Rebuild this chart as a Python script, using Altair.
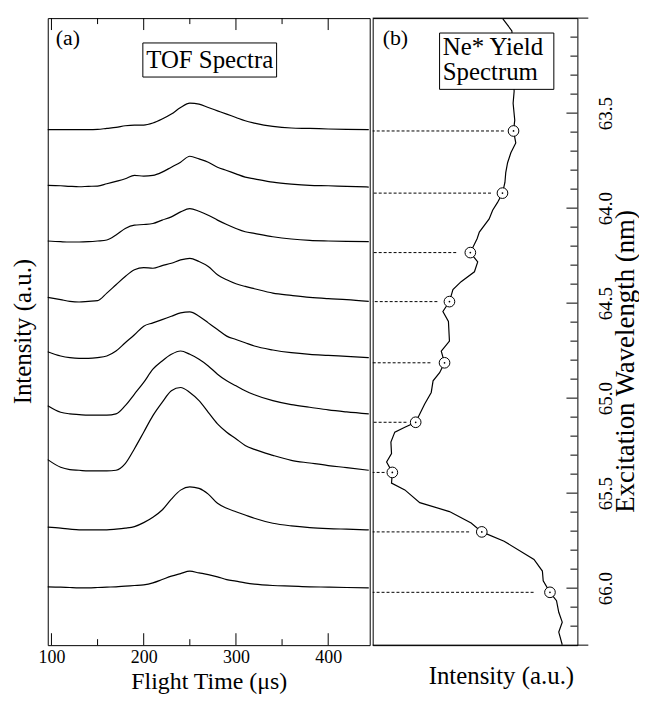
import altair as alt
import pandas as pd

FONT = "Liberation Serif, Times New Roman, serif"

# ---------------- data ----------------
t_us = [96, 110, 120, 130, 140, 150, 160, 170, 180, 190, 200, 210, 220, 230, 240,
        250, 260, 270, 280, 290, 300, 310, 320, 340, 360, 380, 400, 420, 444]

trace_offset = [518.7, 461, 406, 346, 289.3, 232.7, 176, 116, 57.7]

trace1 = [0, 0, 0, 0, 0, 0.3, 1.3, 2.3, 4, 4.7, 4.7, 6.7, 10.7, 15.7, 22.3, 26.7, 25.7, 22.3, 19, 15.7, 12.3, 9, 6.7, 3.3, 1.7, 1.3, 0.7, 0.3, 0]
trace2 = [1.7, 1.3, 0.7, 0.3, 0.7, 1, 3.3, 5.7, 8.3, 11.7, 11, 11.7, 15, 20, 25, 31, 28.3, 25, 20, 16.7, 13.3, 10, 8.3, 5, 3, 1.7, 1.3, 0.7, 0]
trace3 = [0.7, 0, -0.3, -0.3, 0, 0.7, 1.7, 6.7, 13.3, 16.7, 17.3, 18.3, 21.7, 25, 30, 33.3, 30.7, 26.7, 21.7, 17.3, 13.3, 10, 8.3, 5, 2.7, 1.3, 0.7, 0.3, 0]
trace4 = [4, 1.7, 0, -0.7, 0, 0.7, 8.3, 16.7, 25, 31.7, 34, 33.3, 36, 38.3, 41.7, 43.3, 40, 35, 26.7, 21.7, 17.7, 15, 12.7, 8.3, 6, 4, 2.7, 1.7, 0]
trace5 = [6, 1.7, 0, -0.7, -0.7, 0, 1.7, 6.7, 15, 23, 31.7, 35, 38.3, 41.7, 45, 46, 41.7, 35, 28.3, 21.7, 18.3, 15, 11.7, 7.7, 5, 3.3, 2.3, 1.3, 0]
trace6 = [8.3, 1.7, 0, -0.7, -1.3, -1.3, -1.3, 0, 8.3, 20, 31.7, 45, 53.3, 60, 63.3, 60, 55, 48.3, 40, 33.3, 28.3, 23.3, 19.3, 13.3, 9.3, 6.7, 4, 2, 0]
trace7 = [10.7, 3, 0.7, 0, -0.7, -0.7, -0.7, 0, 6.7, 21.7, 38.3, 55, 68.3, 80, 83.3, 78.3, 70, 58.3, 46.7, 38.3, 31.7, 25, 21, 15, 10, 7.3, 4.7, 2.7, 0]
trace8 = [2.7, 1.7, 0.7, 0, 0, 0, 0, 0.7, 1.7, 3.3, 7.3, 12.7, 20, 31, 40, 43.3, 41.7, 36, 26.7, 21.7, 18.3, 15, 11.7, 6.7, 4, 2.3, 1.3, 0.7, 0]
trace9 = [1, 0.7, 0.3, 0, 0, 0.3, 0.7, 1, 1.7, 2.3, 3, 5, 8.3, 11.7, 14.3, 16.7, 15, 13.3, 11, 8.3, 6.7, 5, 3.7, 2.3, 1.7, 1, 0.7, 0.3, 0]
traces = [trace1, trace2, trace3, trace4, trace5, trace6, trace7, trace8, trace9]

t_major = [100, 200, 300, 400]
t_minor = [150, 250, 350]

yield_lambda = [63.004, 63.067, 63.385, 63.448, 63.537, 63.594, 63.657, 63.709, 63.761, 63.813,
                63.865, 63.921, 63.970, 64.011, 64.057, 64.126, 64.161, 64.234, 64.283, 64.335,
                64.387, 64.429, 64.492, 64.544, 64.596, 64.700, 64.753, 64.814, 64.866, 64.909,
                64.970, 65.031, 65.127, 65.153, 65.179, 65.231, 65.292, 65.336, 65.391, 65.447,
                65.483, 65.550, 65.597, 65.657, 65.704, 65.753, 65.849, 65.910, 65.962, 66.022,
                66.066, 66.127, 66.179, 66.231, 66.298]
yield_int = [63.6, 68.0, 69.1, 68.6, 69.4, 68.8, 69.9, 67.5, 65.9, 65.0,
             64.6, 63.4, 61.0, 58.6, 56.9, 52.1, 51.0, 47.7, 51.3, 49.7,
             43.2, 39.2, 37.5, 34.3, 37.0, 37.5, 33.5, 35.1, 32.7, 29.5,
             28.6, 25.4, 21.0, 15.7, 10.8, 8.9, 9.2, 6.8, 9.6, 9.2,
             15.7, 23.0, 37.5, 48.1, 53.3, 64.2, 78.8, 82.9, 83.3, 86.6,
             89.8, 90.9, 92.6, 90.9, 92.6]

marker_lambda = [63.594, 63.921, 64.234, 64.492, 64.814, 65.127, 65.391, 65.704, 66.022]
marker_int = [68.8, 63.4, 47.7, 37.5, 35.1, 21.0, 9.6, 53.3, 86.6]
dash_end = [64.1, 57.8, 40.8, 31.6, 28.2, 16.5, 5.8, 47.1, 78.6]

wl_major = [63.5, 64.0, 64.5, 65.0, 65.5, 66.0]
wl_minor = [63.1, 63.2, 63.3, 63.4, 63.6, 63.7, 63.8, 63.9, 64.1, 64.2, 64.3, 64.4,
            64.6, 64.7, 64.8, 64.9, 65.1, 65.2, 65.3, 65.4, 65.6, 65.7, 65.8, 65.9,
            66.1, 66.2]

# ---------------- layout ----------------
W_A, W_B, H = 324, 206, 631

rows = []
for k, (off, h) in enumerate(zip(trace_offset, traces)):
    for t, v in zip(t_us, h):
        rows.append({"trace": k, "t": t, "y": off + v})
df_tof = pd.DataFrame(rows)

xa = alt.Scale(domain=[96, 445], nice=False, zero=False)
ya = alt.Scale(domain=[0, 631], nice=False, zero=False)

one = pd.DataFrame({"v": [0]})

ax_xa = alt.Axis(
    values=t_major, format="d", title="Flight Time (μs)",
    titleFont=FONT, titleFontSize=24, titleFontWeight="normal", titleColor="black",
    titleX=W_A / 2, titleY=44, titleAlign="center", titleBaseline="alphabetic",
    labelFont=FONT, labelFontSize=18, labelColor="black", labelPadding=3,
    labelBaseline="top", labelFlush=False,
    ticks=False, tickSize=0, domain=False, grid=False)
ax_ya = alt.Axis(
    title="Intensity (a.u.)", labels=False, ticks=False, tickSize=0, domain=False, grid=False,
    titleFont=FONT, titleFontSize=25, titleFontWeight="normal", titleColor="black",
    titleAngle=270, titleX=-25, titleY=315, titleAlign="center", titleBaseline="middle")

tof_lines = alt.Chart(df_tof).mark_line(color="black", strokeWidth=1.2, interpolate="monotone").encode(
    x=alt.X("t:Q", scale=xa, axis=ax_xa),
    y=alt.Y("y:Q", scale=ya, axis=ax_ya),
    detail="trace:N",
)

df_tmaj = pd.DataFrame({"t": t_major})
df_tmin = pd.DataFrame({"t": t_minor})
tick_b_maj = alt.Chart(df_tmaj).mark_rule(color="black", strokeWidth=1).encode(
    x=alt.X("t:Q", scale=xa, axis=ax_xa), y=alt.value(H - 12), y2=alt.value(H))
tick_t_maj = alt.Chart(df_tmaj).mark_rule(color="black", strokeWidth=1).encode(
    x=alt.X("t:Q", scale=xa, axis=ax_xa), y=alt.value(0), y2=alt.value(12))
tick_b_min = alt.Chart(df_tmin).mark_rule(color="black", strokeWidth=1).encode(
    x=alt.X("t:Q", scale=xa, axis=ax_xa), y=alt.value(H - 6), y2=alt.value(H))
tick_t_min = alt.Chart(df_tmin).mark_rule(color="black", strokeWidth=1).encode(
    x=alt.X("t:Q", scale=xa, axis=ax_xa), y=alt.value(0), y2=alt.value(6))

lab_a = alt.Chart(pd.DataFrame({"s": ["(a)"]})).mark_text(
    font=FONT, fontSize=22, align="left", baseline="alphabetic", color="black").encode(
    text="s:N", x=alt.value(8), y=alt.value(27))
box_a = alt.Chart(one).mark_rect(fill="white", stroke="black", strokeWidth=1).encode(
    x=alt.value(95.7), x2=alt.value(230.3), y=alt.value(25), y2=alt.value(59.3))
txt_a = alt.Chart(pd.DataFrame({"s": ["TOF Spectra"]})).mark_text(
    font=FONT, fontSize=25, align="center", baseline="alphabetic", color="black").encode(
    text="s:N", x=alt.value(163), y=alt.value(50))

panel_a = alt.layer(tof_lines, tick_b_maj, tick_t_maj, tick_b_min, tick_t_min,
                    box_a, txt_a, lab_a).properties(width=W_A, height=H)

# ---------------- panel b ----------------
xb = alt.Scale(domain=[0, 100], nice=False, zero=False)
yb = alt.Scale(domain=[63.0, 66.3], nice=False, zero=False, reverse=True)

ax_xb = alt.Axis(
    title="Intensity (a.u.)", labels=False, ticks=False, tickSize=0, domain=False, grid=False,
    titleFont=FONT, titleFontSize=25, titleFontWeight="normal", titleColor="black",
    titleX=129, titleY=39, titleAlign="center", titleBaseline="alphabetic")
ax_yb = alt.Axis(
    orient="right", values=wl_major, format=".1f",
    labelFont=FONT, labelFontSize=19, labelColor="black", labelAngle=270,
    labelAlign="center", labelBaseline="top", labelPadding=19,
    ticks=False, tickSize=0, domain=False, grid=False,
    title="Excitation Wavelength (nm)", titleFont=FONT, titleFontSize=27,
    titleFontWeight="normal", titleColor="black", titleAngle=270,
    titleX=48, titleY=345, titleAlign="center", titleBaseline="middle")

df_yield = pd.DataFrame({"i": list(range(len(yield_lambda))), "lam": yield_lambda, "inten": yield_int})
df_mark = pd.DataFrame({"lam": marker_lambda, "inten": marker_int, "dend": dash_end})

curve = alt.Chart(df_yield).mark_line(color="black", strokeWidth=1.2, clip=True).encode(
    x=alt.X("inten:Q", scale=xb, axis=ax_xb),
    y=alt.Y("lam:Q", scale=yb, axis=ax_yb),
    order="i:Q",
)

dashes = alt.Chart(df_mark).mark_rule(color="black", strokeWidth=1, strokeDash=[3, 2]).encode(
    x=alt.X("dend:Q", scale=xb, axis=ax_xb), x2=alt.value(0),
    y=alt.Y("lam:Q", scale=yb, axis=ax_yb))
circles = alt.Chart(df_mark).mark_point(shape="circle", filled=True, fill="white", stroke="black",
                                        strokeWidth=1, size=115, opacity=1).encode(
    x=alt.X("inten:Q", scale=xb, axis=ax_xb), y=alt.Y("lam:Q", scale=yb, axis=ax_yb))
dots = alt.Chart(df_mark).mark_circle(color="black", size=3, opacity=1).encode(
    x=alt.X("inten:Q", scale=xb, axis=ax_xb), y=alt.Y("lam:Q", scale=yb, axis=ax_yb))

df_wmaj = pd.DataFrame({"lam": wl_major})
df_wmin = pd.DataFrame({"lam": wl_minor})
rt_maj = alt.Chart(df_wmaj).mark_rule(color="black", strokeWidth=1).encode(
    y=alt.Y("lam:Q", scale=yb, axis=ax_yb), x=alt.value(W_B - 11), x2=alt.value(W_B))
rt_min = alt.Chart(df_wmin).mark_rule(color="black", strokeWidth=1).encode(
    y=alt.Y("lam:Q", scale=yb, axis=ax_yb), x=alt.value(W_B - 7), x2=alt.value(W_B))

frame_top = alt.Chart(one).mark_rule(color="black", strokeWidth=1).encode(
    x=alt.value(0), x2=alt.value(W_B + 11), y=alt.value(0))
frame_bot = alt.Chart(one).mark_rule(color="black", strokeWidth=1).encode(
    x=alt.value(0), x2=alt.value(W_B + 11), y=alt.value(H))

box_b = alt.Chart(one).mark_rect(fill="white", stroke="black", strokeWidth=1).encode(
    x=alt.value(67.3), x2=alt.value(182.3), y=alt.value(15), y2=alt.value(71.7))
txt_b1 = alt.Chart(pd.DataFrame({"s": ["Ne* Yield"]})).mark_text(
    font=FONT, fontSize=25, align="left", baseline="alphabetic", color="black").encode(
    text="s:N", x=alt.value(70.5), y=alt.value(37))
txt_b2 = alt.Chart(pd.DataFrame({"s": ["Spectrum"]})).mark_text(
    font=FONT, fontSize=25, align="left", baseline="alphabetic", color="black").encode(
    text="s:N", x=alt.value(70.5), y=alt.value(62.5))
lab_b = alt.Chart(pd.DataFrame({"s": ["(b)"]})).mark_text(
    font=FONT, fontSize=22, align="left", baseline="alphabetic", color="black").encode(
    text="s:N", x=alt.value(10), y=alt.value(27))

panel_b = alt.layer(curve, dashes, circles, dots, rt_maj, rt_min, frame_top, frame_bot,
                    box_b, txt_b1, txt_b2, lab_b).properties(width=W_B, height=H)

chart = alt.hconcat(panel_a, panel_b, spacing=0).configure_view(
    stroke="black", strokeWidth=1
).properties(
    padding={"left": 2, "top": 7, "right": 0, "bottom": 0},
    background="white",
)

chart.save("out.html", embed_options={"renderer": "svg", "actions": False})
